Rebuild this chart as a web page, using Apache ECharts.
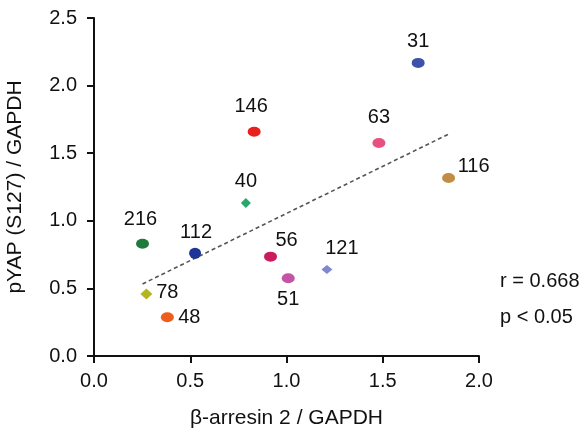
<!DOCTYPE html>
<html>
<head>
<meta charset="utf-8">
<script src="https://cdn.jsdelivr.net/npm/echarts@6/dist/echarts.min.js"></script>
<style>
html,body{margin:0;padding:0;background:#fff;}
#chart{width:587px;height:430px;}
</style>
</head>
<body>
<div id="chart"></div>
<script>
// ---- data ----
const sampleIds = ['216','112','78','48','56','51','121','146','40','31','63','116'];
const arrestinValues = [0.252,0.525,0.272,0.381,0.917,1.009,1.210,0.832,0.789,1.684,1.480,1.842];
const pyapValues =     [0.830,0.760,0.459,0.287,0.735,0.575,0.639,1.659,1.131,2.168,1.576,1.316];
const trendX = [0.252, 1.846];
const trendY = [0.533, 1.644];
const xTicks = [0, 0.5, 1.0, 1.5, 2.0];
const yTicks = [0, 0.5, 1.0, 1.5, 2.0, 2.5];
const statsText = ['r = 0.668', 'p < 0.05'];

// ---- styling (separate from data) ----
const pointColors = {
  '216':'#1f7a3c','112':'#1c3597','78':'#b5b522','48':'#ef5c1c','56':'#cc1a5e','51':'#c453a6',
  '121':'#7f87d0','146':'#e8201e','40':'#27a86b','31':'#3d52a8','63':'#e8517f','116':'#c18c45'
};
const pointSymbols = {'40':['diamond',[10,10]],'121':['diamond',[11,9]],'78':['diamond',[12,11]],'112':['circle',[12,11]]};
const labelOffsets = {
  '216':[-2,-24],'112':[1,-21],'78':[21,-1],'48':[22,0],'56':[16,-16],'51':[0,21],
  '121':[15,-21],'146':[-3,-25],'40':[0,-22],'31':[0,-21],'63':[0,-25],'116':[25,-12]
};

const FONT = 'Liberation Sans, Arial, sans-serif';
const TEXT = '#111';

const scatterData = sampleIds.map((id, i) => {
  const sym = pointSymbols[id] || ['circle',[13,10]];
  return {
    name: id,
    value: [arrestinValues[i], pyapValues[i]],
    symbol: sym[0],
    symbolSize: sym[1],
    itemStyle: {color: pointColors[id], opacity: 1},
    label: {offset: labelOffsets[id]}
  };
});

const chart = echarts.init(document.getElementById('chart'), null, {renderer:'canvas'});
chart.setOption({
  animation: false,
  backgroundColor: '#fff',
  grid: {left: 94, right: 108, top: 18, bottom: 74, containLabel: false, outerBoundsMode: 'none'},
  xAxis: {
    type: 'value', min: xTicks[0], max: xTicks[xTicks.length-1], interval: 0.5,
    name: 'β-arresin 2 / GAPDH', nameLocation: 'middle', nameGap: 52,
    nameTextStyle: {fontFamily: FONT, fontSize: 21, color: TEXT},
    axisLine: {onZero: false, lineStyle: {color: TEXT, width: 2}},
    axisTick: {inside: false, length: 7, lineStyle: {color: TEXT, width: 2}},
    axisLabel: {fontFamily: FONT, fontSize: 20, color: TEXT, margin: 15,
      formatter: v => v.toFixed(1)},
    splitLine: {show: false}
  },
  yAxis: {
    type: 'value', min: yTicks[0], max: yTicks[yTicks.length-1], interval: 0.5,
    name: 'pYAP (S127) / GAPDH', nameLocation: 'middle', nameGap: 68,
    nameTextStyle: {fontFamily: FONT, fontSize: 21, color: TEXT},
    axisLine: {show: true, onZero: false, lineStyle: {color: TEXT, width: 2}},
    axisTick: {show: true, inside: false, length: 7, lineStyle: {color: TEXT, width: 2}},
    axisLabel: {fontFamily: FONT, fontSize: 20, color: TEXT, margin: 17,
      formatter: v => v.toFixed(1)},
    splitLine: {show: false}
  },
  series: [
    {
      type: 'line',
      data: trendX.map((x, i) => [x, trendY[i]]),
      symbol: 'none',
      lineStyle: {color: '#555', width: 1.6, type: [4, 3]},
      z: 1
    },
    {
      type: 'scatter',
      data: scatterData,
      itemStyle: {opacity: 1},
      label: {
        show: true, position: 'inside',
        formatter: p => p.name,
        fontFamily: FONT, fontSize: 20, color: TEXT, opacity: 1,
        textBorderWidth: 0
      },
      z: 2
    }
  ],
  graphic: [
    {type: 'text', left: 500, top: 271, style: {text: statsText[0], font: '20px ' + FONT, fill: TEXT}},
    {type: 'text', left: 500, top: 307, style: {text: statsText[1], font: '20px ' + FONT, fill: TEXT}}
  ]
});
</script>
</body>
</html>
